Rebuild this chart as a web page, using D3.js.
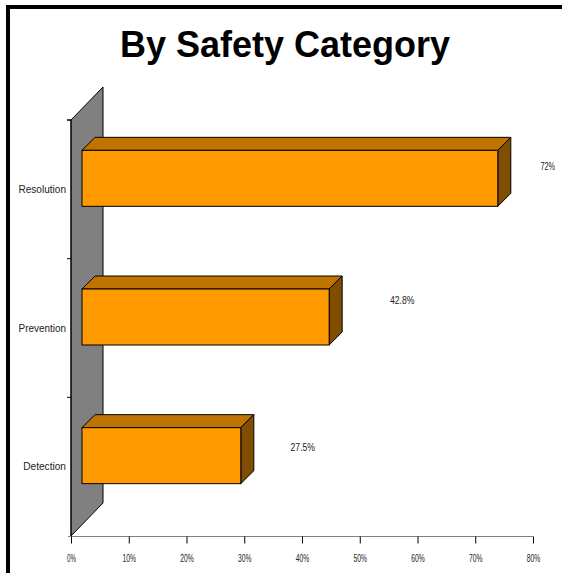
<!DOCTYPE html>
<html><head><meta charset="utf-8">
<script src="https://cdn.jsdelivr.net/npm/d3@7"></script>
<style>html,body{margin:0;padding:0;background:#fff;overflow:hidden}</style>
</head><body><svg id="chart" width="562" height="573"></svg>
<script>
// Data
const categories = ["Detection", "Prevention", "Resolution"];
const values = [27.5, 42.8, 72];
const valueLabels = ["27.5%", "42.8%", "72%"];
const xTickValues = [0, 10, 20, 30, 40, 50, 60, 70, 80];
const titleText = "By Safety Category";

// Label nudges (px) relative to each bar's front end / front centre
const labelDx = [62, 73, 50];
const labelDy = [-8, -17, -12];

const W = 562, H = 573;
const svg = d3.select("#chart");
svg.append("rect").attr("width", W).attr("height", H).attr("fill", "#fff");

// Outer frame
svg.append("rect")
  .attr("x", 8).attr("y", 7).attr("width", W + 20).attr("height", H + 20)
  .attr("fill", "none").attr("stroke", "#000").attr("stroke-width", 4);

// Title
svg.append("text")
  .attr("x", 285).attr("y", 57).attr("text-anchor", "middle")
  .attr("font-family", "Liberation Sans, Arial, sans-serif")
  .attr("font-weight", "bold").attr("font-size", 36).attr("fill", "#000")
  .text(titleText);

// Scales
const x = d3.scaleLinear().domain([0, 80]).range([71, 533]);
const y = d3.scaleBand().domain(categories.slice().reverse()).range([120, 536]).padding(0);

const wallDepth = 33;   // depth of the back wall
const barOff = 11;      // bars sit a third of the way into the depth
const barDepth = 13;
const barH = 56;

const smallFont = "Liberation Sans, Arial, sans-serif";

// Back wall (gray)
const y0 = y.range()[0], y1 = y.range()[1], xa = x(0);
svg.append("polygon")
  .attr("points", [[xa, y0], [xa + wallDepth - 1, y0 - wallDepth], [xa + wallDepth - 1, y1 - wallDepth], [xa, y1]].map(p => p.join(",")).join(" "))
  .attr("fill", "#808080").attr("stroke", "#000").attr("stroke-width", 1);

// Category axis line and boundary ticks
svg.append("line").attr("x1", xa).attr("x2", xa).attr("y1", y0).attr("y2", y1)
  .attr("stroke", "#000").attr("stroke-width", 1);
const bounds = categories.map(c => y(c)).concat([y0]);
svg.selectAll(".ctick").data(bounds).join("line")
  .attr("x1", xa - 4).attr("x2", xa).attr("y1", d => d).attr("y2", d => d)
  .attr("stroke", "#000").attr("stroke-width", 1);

// Category labels
svg.selectAll(".clabel").data(categories).join("text")
  .attr("x", 66).attr("y", d => y(d) + y.bandwidth() / 2 + 3.5)
  .attr("text-anchor", "end")
  .attr("font-family", smallFont).attr("font-size", 10).attr("fill", "#222")
  .attr("textLength", d => d.length * 4.75).attr("lengthAdjust", "spacingAndGlyphs")
  .text(d => d);

// Value axis
const xAxis = d3.axisBottom(x).tickValues(xTickValues).tickSize(7).tickSizeOuter(0)
  .tickFormat(d => d + "%");
const gx = svg.append("g").attr("transform", `translate(0,${y1 + 0.5})`).call(xAxis);
gx.select(".domain").attr("stroke", "#808080").attr("d", `M${xa - 3},0H${x(80)}`);
gx.selectAll(".tick line").attr("stroke", "#000");
gx.selectAll(".tick text")
  .attr("y", 25).attr("dy", 0)
  .attr("font-family", smallFont).attr("font-size", 11).attr("fill", "#222")
  .attr("textLength", d => (d + "%").length * 4.5).attr("lengthAdjust", "spacingAndGlyphs");

// 3D bars
const bars = svg.append("g");
categories.forEach((c, i) => {
  const v = values[i];
  const fx0 = x(0) + barOff, fx1 = x(v) + barOff;
  const cy = y(c) + y.bandwidth() / 2 - barOff;
  const fy0 = cy - barH / 2, fy1 = cy + barH / 2;
  const pts = a => a.map(p => p.join(",")).join(" ");
  bars.append("polygon")
    .attr("points", pts([[fx0, fy0], [fx0 + barDepth, fy0 - barDepth], [fx1 + barDepth, fy0 - barDepth], [fx1, fy0]]))
    .attr("fill", "#C07400").attr("stroke", "#000").attr("stroke-width", 1).attr("stroke-linejoin", "round");
  bars.append("polygon")
    .attr("points", pts([[fx1, fy0], [fx1 + barDepth, fy0 - barDepth], [fx1 + barDepth, fy1 - barDepth], [fx1, fy1]]))
    .attr("fill", "#804E00").attr("stroke", "#000").attr("stroke-width", 1).attr("stroke-linejoin", "round");
  bars.append("rect")
    .attr("x", fx0).attr("y", fy0).attr("width", fx1 - fx0).attr("height", barH)
    .attr("fill", "#FF9900").attr("stroke", "#000").attr("stroke-width", 1);

  // Value label
  bars.append("text")
    .attr("x", fx1 + labelDx[i]).attr("y", cy + labelDy[i] + 3.5)
    .attr("text-anchor", "middle")
    .attr("font-family", smallFont).attr("font-size", 11).attr("fill", "#222")
    .attr("textLength", valueLabels[i].length * 4.9).attr("lengthAdjust", "spacingAndGlyphs")
    .text(valueLabels[i]);
});
</script></body></html>
